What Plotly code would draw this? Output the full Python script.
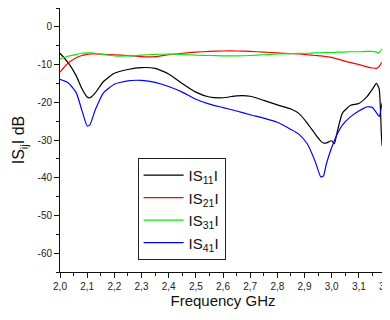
import plotly.graph_objects as go

freq = [2.00, 2.03, 2.06, 2.08, 2.10, 2.11, 2.13, 2.16, 2.20, 2.25, 2.30, 2.35, 2.40, 2.45,
        2.50, 2.55, 2.60, 2.65, 2.70, 2.75, 2.80, 2.85, 2.88, 2.91, 2.94, 2.96, 2.97, 2.98,
        3.00, 3.01, 3.02, 3.04, 3.07, 3.10, 3.13, 3.15, 3.165, 3.175, 3.185, 3.19, 3.20]

s11 = [-7.0, -9.5, -13.0, -16.3, -18.6, -18.8, -17.5, -14.5, -12.3, -11.3, -10.8, -11.0, -12.5, -15.0,
       -17.3, -18.6, -18.8, -18.3, -18.4, -19.5, -20.7, -21.8, -23.0, -25.5, -28.5, -30.3, -30.8, -30.8,
       -30.2, -31.0, -28.0, -22.8, -20.8, -20.3, -18.5, -16.5, -15.0, -16.5, -31.5, -28.0, -17.5]

s21 = [-12.0, -9.6, -8.2, -7.6, -7.3, -7.2, -7.2, -7.3, -7.4, -7.6, -7.9, -7.9, -7.4, -7.0,
       -6.7, -6.5, -6.4, -6.4, -6.5, -6.7, -6.9, -7.1, -7.2, -7.4, -7.6, -7.7, -7.8, -7.9,
       -8.1, -8.3, -8.5, -8.9, -9.5, -10.0, -10.6, -10.9, -11.0, -10.5, -9.4, -10.0, -11.6]

s31 = [-8.5, -7.8, -7.3, -7.0, -6.9, -6.9, -7.0, -7.3, -7.7, -7.7, -7.5, -7.3, -7.2, -7.3,
       -7.5, -7.6, -7.7, -7.7, -7.6, -7.4, -7.2, -7.1, -7.0, -7.0, -6.9, -6.9, -6.8, -6.8,
       -6.8, -6.8, -6.7, -6.7, -6.6, -6.6, -6.5, -6.5, -6.7, -6.9, -5.9, -5.7, -5.7]

s41 = [-13.9, -14.8, -17.5, -22.0, -26.3, -26.0, -22.0, -17.5, -15.2, -14.3, -14.2, -14.7, -15.8, -17.3,
       -19.2, -20.5, -21.4, -22.3, -23.3, -24.2, -25.3, -27.2, -28.5, -31.0, -35.8, -39.8, -39.5, -36.5,
       -32.0, -30.2, -28.5, -26.0, -23.8, -22.3, -21.2, -21.4, -22.8, -23.8, -20.5, -19.5, -17.5]

series_names = ["IS<sub>11</sub>I", "IS<sub>21</sub>I", "IS<sub>31</sub>I", "IS<sub>41</sub>I"]
series_values = [s11, s21, s31, s41]
series_colors = ["#000000", "#ff0000", "#00ee00", "#0000ff"]

x_tickvals = [2.0, 2.1, 2.2, 2.3, 2.4, 2.5, 2.6, 2.7, 2.8, 2.9, 3.0, 3.1, 3.2]
x_ticktext = ["2,0", "2,1", "2,2", "2,3", "2,4", "2,5", "2,6", "2,7", "2,8", "2,9", "3,0", "3,1", "3,2"]
y_tickvals = [-60, -50, -40, -30, -20, -10, 0]
y_ticktext = ["-60", "-50", "-40", "-30", "-20", "-10", "0"]

fig = go.Figure()
for name, vals, col in zip(series_names, series_values, series_colors):
    fig.add_trace(go.Scatter(x=freq, y=vals, mode="lines", name=name,
                             line=dict(color=col, width=1.2, shape="spline", smoothing=0.5)))

axis_font = dict(family="Liberation Sans, Arial, sans-serif", size=10, color="#222222")
fig.update_layout(
    width=382, height=312,
    margin=dict(l=52, r=4, t=0, b=48, autoexpand=False),
    paper_bgcolor="white", plot_bgcolor="white",
    font=dict(family="Liberation Sans, Arial, sans-serif", color="#111111"),
    showlegend=True,
    legend=dict(x=0.238, y=0.432, xanchor="left", yanchor="top",
                bordercolor="#222222", borderwidth=1, bgcolor="white",
                font=dict(size=15, color="#111111"), tracegroupgap=0,
                itemwidth=40),
    xaxis=dict(range=[2.0, 3.2], showline=True, linecolor="#111111", linewidth=1,
               ticks="outside", ticklen=5, tickcolor="#111111", automargin=False,
               tickvals=x_tickvals, ticktext=x_ticktext, tickfont=axis_font,
               ticklabeloverflow="allow",
               minor=dict(ticks="outside", ticklen=3, dtick=0.05, tickcolor="#111111"),
               showgrid=False, zeroline=False, mirror=False,
               title=dict(text="Frequency GHz", font=dict(size=15, color="#111111"), standoff=4)),
    yaxis=dict(range=[-65, 5], showline=True, linecolor="#111111", linewidth=1,
               ticks="outside", ticklen=5, tickcolor="#111111", automargin=False,
               tickvals=y_tickvals, ticktext=y_ticktext, tickfont=axis_font,
               minor=dict(ticks="outside", ticklen=3, dtick=5, tickcolor="#111111"),
               showgrid=False, zeroline=False, mirror=False,
               title=dict(text="IS<sub>ij</sub>I dB", font=dict(size=16, color="#111111"), standoff=8)),
)

fig.write_html("out.html")
